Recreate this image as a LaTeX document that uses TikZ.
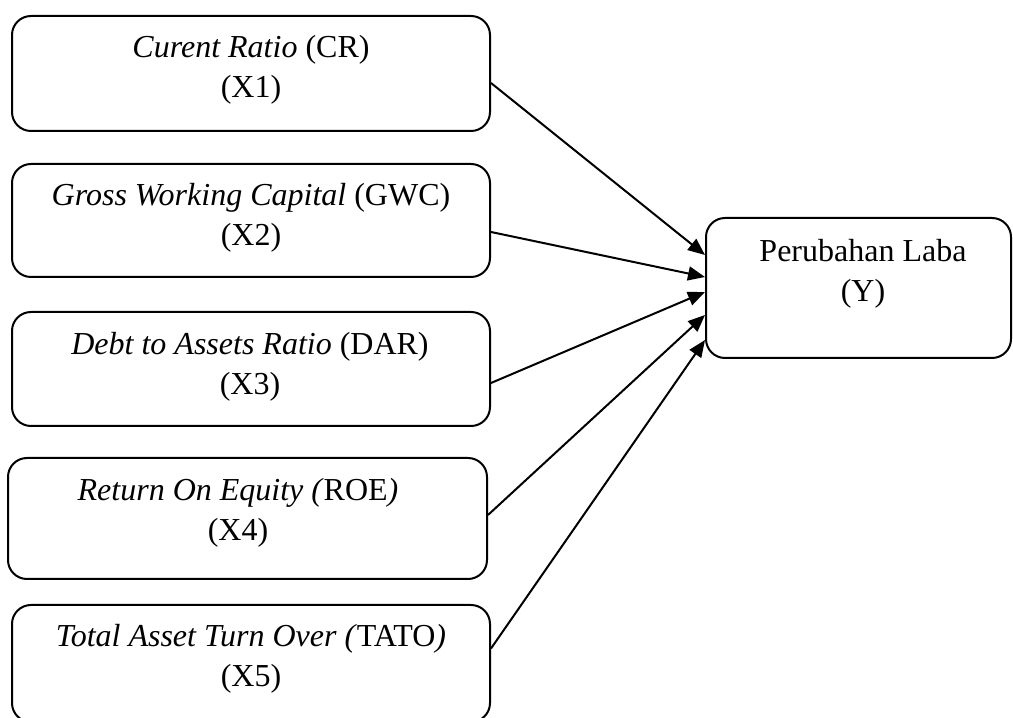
\documentclass[tikz,border=0pt]{standalone}
\usepackage{fontspec}
\setmainfont{Liberation Serif}
\usetikzlibrary{arrows.meta}
\begin{document}
\begin{tikzpicture}[x=1pt,y=1pt,
  box/.style={draw=black, line width=2pt, rounded corners=19pt, inner sep=0pt},
  lbl/.style={align=center, inner sep=0pt, font=\fontsize{32}{40}\selectfont},
  arr/.style={line width=2pt, -{Triangle[length=17pt,width=14pt]}}]
\useasboundingbox (0,0) rectangle (1013,718);
% boxes
\node[box, minimum width=478pt, minimum height=115pt] (b1) at (251,644.5) {};
\node[box, minimum width=478pt, minimum height=113pt] (b2) at (251,497.5) {};
\node[box, minimum width=478pt, minimum height=114pt] (b3) at (251,349) {};
\node[box, minimum width=479pt, minimum height=121pt] (b4) at (247.5,199.5) {};
\node[box, minimum width=478pt, minimum height=117pt] (b5) at (251,54.5) {};
\node[box, minimum width=305pt, minimum height=140pt] (y) at (858.5,430) {};
% labels
\node[lbl] (t1) at (251,648) {\textit{Curent Ratio} (CR)\\(X1)};
\node[lbl] (t2) at (251,500) {\textit{Gross Working Capital} (GWC)\\(X2)};
\node[lbl] (t3) at (250,351) {\textit{Debt to Assets Ratio} (DAR)\\(X3)};
\node[lbl] (t4) at (238,205) {\textit{Return On Equity (}ROE\textit{)}\\(X4)};
\node[lbl] (t5) at (251,59) {\textit{Total Asset Turn Over (}TATO\textit{)}\\(X5)};
\node[lbl] (ty) at (863,444) {Perubahan Laba\\(Y)};
% connectors
\draw[arr] ([yshift=-9.5pt]b1.east) -- ([yshift=33pt]y.west);
\draw[arr] ([yshift=-11.5pt]b2.east) -- ([yshift=11pt]y.west);
\draw[arr] ([yshift=-14pt]b3.east) -- ([yshift=-4pt]y.west);
\draw[arr] ([yshift=3.5pt]b4.east) -- ([yshift=-27pt]y.west);
\draw[arr] ([yshift=15pt]b5.east) -- ([yshift=-52pt]y.west);
\end{tikzpicture}
\end{document}
